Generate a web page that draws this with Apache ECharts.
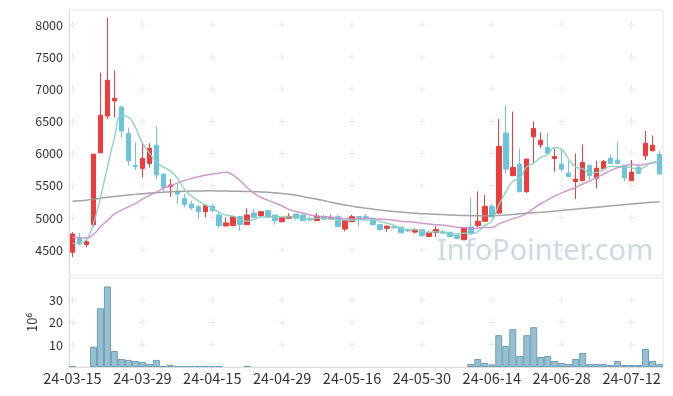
<!DOCTYPE html>
<html><head><meta charset="utf-8">
<script src="https://cdn.jsdelivr.net/npm/echarts@6/dist/echarts.min.js"></script>
<style>html,body{margin:0;padding:0;background:#fff}#c{width:673px;height:396px}</style>
</head><body><div id="c"></div>
<script>
const dates = ['24-03-15','24-03-18','24-03-19','24-03-20','24-03-21','24-03-22','24-03-25','24-03-26','24-03-27','24-03-28',
'24-03-29','24-04-01','24-04-02','24-04-03','24-04-04','24-04-05','24-04-08','24-04-09','24-04-10','24-04-12',
'24-04-15','24-04-16','24-04-17','24-04-18','24-04-19','24-04-22','24-04-23','24-04-24','24-04-25','24-04-26',
'24-04-29','24-04-30','24-05-02','24-05-03','24-05-07','24-05-08','24-05-09','24-05-10','24-05-13','24-05-14',
'24-05-16','24-05-17','24-05-20','24-05-21','24-05-22','24-05-23','24-05-24','24-05-27','24-05-28','24-05-29',
'24-05-30','24-05-31','24-06-03','24-06-04','24-06-05','24-06-07','24-06-10','24-06-11','24-06-12','24-06-13',
'24-06-14','24-06-17','24-06-18','24-06-19','24-06-20','24-06-21','24-06-24','24-06-25','24-06-26','24-06-27',
'24-06-28','24-07-01','24-07-02','24-07-03','24-07-04','24-07-05','24-07-08','24-07-09','24-07-10','24-07-11',
'24-07-12','24-07-15','24-07-16','24-07-17','24-07-18'];

const opens = [4464,4682,4582,4893,6012,6586,6819,6726,6313,5820,
5769,5847,6131,5681,5483,5412,5303,5215,5173,5095,
5184,5044,4873,4878,5018,4894,5075,5033,5111,5044,
4940,4992,5059,5044,4982,4956,5023,4982,5018,4826,
4940,5018,5018,4992,4894,4837,4860,4855,4808,4778,
4813,4710,4772,4780,4775,4726,4658,4856,4878,4946,
5178,5075,6318,5655,5836,5406,6261,6136,6095,5924,
5836,5694,5564,5577,5820,5618,5763,5927,5898,5820,
5577,5784,5965,6043,5991];
const closes = [4749,4593,4629,5991,6597,7141,6861,6353,5887,5800,
5925,6080,5670,5474,5510,5370,5204,5153,5095,5189,
5111,4878,4920,5018,4894,5044,5007,5095,5007,4956,
5007,5023,4997,4956,4966,5023,4982,5007,4862,4956,
5018,5002,5002,4894,4816,4870,4847,4766,4797,4813,
4720,4767,4820,4762,4710,4678,4845,4757,4946,5178,
5018,6110,5758,5784,5406,5914,6390,6209,6007,5955,
5758,5642,5603,5862,5655,5772,5877,5846,5846,5624,
5712,5691,6162,6131,5681];
const lows = [4387,4582,4542,4862,6012,6535,6561,6251,5810,5743,
5629,5785,5603,5381,5328,5215,5163,5121,4982,5007,
5085,4837,4873,4878,4800,4894,5007,5023,5007,4894,
4930,4992,4971,4956,4945,4956,4971,4982,4862,4790,
4940,4867,4982,4878,4800,4785,4826,4766,4780,4754,
4712,4702,4702,4745,4705,4665,4658,4757,4852,4946,
5018,5060,5681,5655,5406,5386,5852,6085,6007,5717,
5717,5642,5292,5577,5587,5458,5763,5846,5846,5572,
5577,5691,5900,6035,5681];
const highs = [4775,4760,4697,5991,7261,8115,7296,6740,6406,6173,
6158,6158,6422,5681,5603,5525,5370,5266,5204,5215,
5215,5085,5007,5033,5033,5147,5137,5111,5111,5044,
5007,5070,5059,5044,5023,5070,5044,5049,5044,4956,
5049,5018,5059,5007,4894,4878,4880,4860,4830,4837,
4813,4795,4870,4811,4775,4726,4845,5318,5411,5355,
5215,6535,6753,6654,6079,5914,6499,6328,6318,6079,
6069,5888,5999,6142,5820,5890,5900,5985,6173,5820,
5900,5846,6354,6282,6043];

// volume in millions (10^6)
const volumes = [0.5,0,0,9.1,26.4,36.2,7.2,3.6,3.2,2.7,
2.3,1.4,3.2,0.4,1.0,0.4,0.4,0.4,0.4,0.4,
0.4,0.4,0,0,0,0.5,0,0,0,0,
0,0,0,0,0,0,0,0,0,0,
0,0,0,0,0,0,0,0,0,0,
0,0,0,0,0,0,0,1.4,3.6,1.8,
1.1,14.3,9.4,17.0,5.0,14.3,17.9,4.5,5.0,2.7,
1.8,1.4,3.6,6.3,1.4,1.4,1.4,0.9,2.7,0.9,
0.9,0.9,8.1,2.7,1.4];

const maShort = [4600,4610,4660,4910,5312,5790,6244,6589,6568,6408,
6165,6009,5872,5790,5732,5621,5446,5342,5266,5202,
5150,5085,5039,5023,4964,4951,4977,5012,5009,5022,
5014,5018,4998,4988,4990,4993,4985,4987,4968,4966,
4965,4969,4968,4974,4946,4917,4886,4839,4819,4819,
4789,4773,4783,4776,4756,4747,4763,4750,4787,4881,
4949,5202,5402,5570,5615,5794,5850,5941,5985,6095,
6064,5914,5793,5764,5704,5707,5754,5802,5799,5793,
5781,5744,5807,5864,5875];
const maMid = [4697,4690,4685,4740,4860,4960,5060,5120,5170,5220,
5290,5350,5400,5460,5500,5540,5580,5610,5640,5664,
5682,5696,5710,5662,5577,5472,5379,5316,5272,5230,
5184,5131,5098,5072,5045,5027,5016,5009,4997,4985,
4981,4987,4991,4985,4981,4972,4964,4948,4937,4930,
4916,4903,4894,4885,4872,4854,4848,4835,4839,4850,
4850,4906,4944,4988,5018,5070,5147,5219,5280,5337,
5389,5432,5472,5527,5574,5628,5680,5735,5780,5802,
5837,5816,5836,5853,5867];
const maLong = [5258,5265,5275,5290,5305,5320,5333,5345,5355,5365,
5375,5385,5393,5400,5405,5410,5413,5416,5418,5420,
5420,5418,5416,5414,5412,5410,5407,5403,5398,5390,
5380,5366,5350,5330,5310,5290,5266,5242,5220,5200,
5182,5165,5150,5135,5122,5110,5100,5090,5080,5072,
5065,5060,5055,5050,5045,5040,5036,5033,5031,5030,
5032,5038,5045,5053,5062,5070,5078,5086,5095,5105,
5115,5125,5135,5145,5155,5165,5175,5185,5195,5205,
5215,5225,5235,5243,5250];

const priceTicks = [4500,5000,5500,6000,6500,7000,7500,8000];
const volumeTicks = [10,20,30];
const gridTickIdx = [0,10,20,30,40,50,60,70,80];

const candles = dates.map((d,i)=>[opens[i],closes[i],lows[i],highs[i]]);
const volumeData = volumes.map(v => v === 0 ? '-' : v);
const crossMain = [];
gridTickIdx.forEach(i=>priceTicks.forEach(v=>crossMain.push([i,v])));
const crossVol = [];
gridTickIdx.forEach(i=>volumeTicks.forEach(v=>crossVol.push([i,v])));
const plus = 'path://M3,0h1v3h3v1h-3v3h-1v-3h-3v-1h3z';
const font = '"Noto Sans CJK KR","Noto Sans",sans-serif';

const chart = echarts.init(document.getElementById('c'));
chart.setOption({
  animation:false,
  backgroundColor:'#ffffff',
  grid:[
    {left:69,right:10,top:10,height:265,show:true,borderColor:'#e4e4e4',borderWidth:1},
    {left:69,right:10,top:278,height:89,show:true,borderColor:'#e4e4e4',borderWidth:1}
  ],
  graphic:[{type:'text',left:437,top:237,z:0,silent:true,
    style:{text:'InfoPointer.com',fill:'#c9dbe4',font:'29px "Noto Sans", sans-serif'}}],
  xAxis:[
    {type:'category',gridIndex:0,data:dates,boundaryGap:true,axisLine:{show:false},axisTick:{show:false},axisLabel:{show:false},splitLine:{show:false}},
    {type:'category',gridIndex:1,data:dates,boundaryGap:true,axisLine:{show:true,lineStyle:{color:'#dddddd'}},axisTick:{show:false},
      axisLabel:{interval:9,color:'#333333',fontSize:14.5,fontFamily:font,margin:4},splitLine:{show:false}}
  ],
  yAxis:[
    {type:'value',gridIndex:0,min:4110,max:8235,axisLine:{show:true,lineStyle:{color:'#dddddd'}},axisTick:{show:false},splitLine:{show:false},
      axisLabel:{customValues:priceTicks,formatter:v=>String(v),color:'#333333',fontSize:12.5,fontFamily:font,margin:6}},
    {type:'value',gridIndex:1,min:0,max:40,axisLine:{show:true,lineStyle:{color:'#dddddd'}},axisTick:{show:false},splitLine:{show:false},
      axisLabel:{customValues:volumeTicks,formatter:v=>String(v),color:'#333333',fontSize:12.5,fontFamily:font,margin:6},
      name:'10⁶',nameLocation:'middle',nameRotate:90,nameGap:30,nameTextStyle:{color:'#333333',fontSize:13,fontFamily:font}}
  ],
  series:[
    {type:'scatter',xAxisIndex:0,yAxisIndex:0,data:crossMain,symbol:plus,symbolSize:7,silent:true,z:1,itemStyle:{color:'#e2e2e2'}},
    {type:'scatter',xAxisIndex:1,yAxisIndex:1,data:crossVol,symbol:plus,symbolSize:7,silent:true,z:1,itemStyle:{color:'#e2e2e2'}},
    {type:'candlestick',xAxisIndex:0,yAxisIndex:0,data:candles,barWidth:5,z:3,
      itemStyle:{color:'#ee3b3b',color0:'#6cc4da',borderColor:'#ee3b3b',borderColor0:'#6cc4da',borderWidth:1}},
    {type:'line',xAxisIndex:0,yAxisIndex:0,data:maLong,symbol:'none',smooth:true,z:4,lineStyle:{color:'#999999',width:1.5,opacity:0.9}},
    {type:'line',xAxisIndex:0,yAxisIndex:0,data:maMid,symbol:'none',smooth:true,z:4,lineStyle:{color:'#cc8dcc',width:1.5,opacity:0.9}},
    {type:'line',xAxisIndex:0,yAxisIndex:0,data:maShort,symbol:'none',smooth:true,z:4,lineStyle:{color:'#8dcfc0',width:1.5,opacity:0.9}},
    {type:'bar',xAxisIndex:1,yAxisIndex:1,data:volumeData,barWidth:'100%',z:3,
      itemStyle:{color:'#96bfcf',borderColor:'#6e9fb6',borderWidth:1}}
  ]
});
</script></body></html>
